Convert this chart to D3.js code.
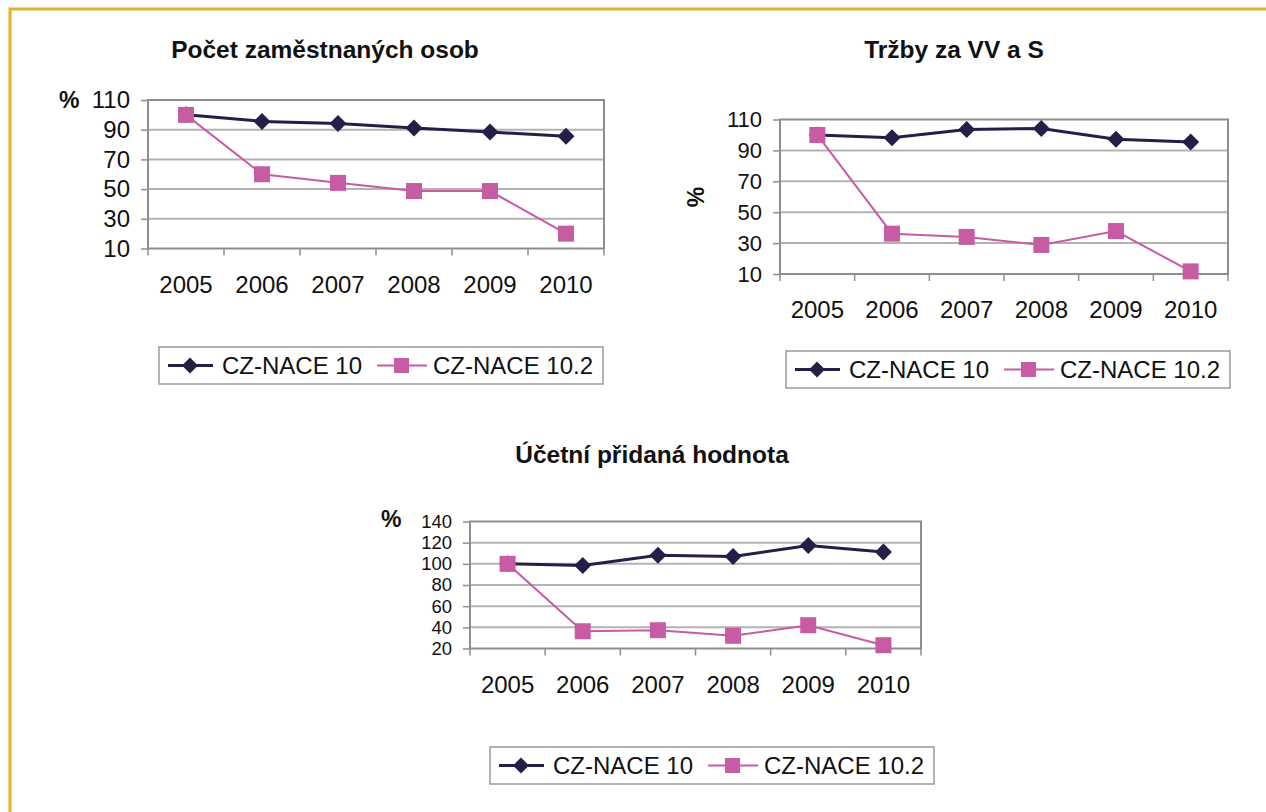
<!DOCTYPE html>
<html>
<head>
<meta charset="utf-8">
<script src="https://cdn.jsdelivr.net/npm/d3@7"></script>
<style>
    body { margin: 0; background: #fff; }
    svg { display: block; font-family: "Liberation Sans", Arial, sans-serif; }
</style>
</head>
<body>
<div id="chart"></div>
<script>
// data (index 2005 = 100)
const years = ["2005", "2006", "2007", "2008", "2009", "2010"];
const seriesNames = ["CZ-NACE 10", "CZ-NACE 10.2"];

const zamestnanciNace10 = [100, 95.6, 94.2, 91.1, 88.4, 85.6];
const zamestnanciNace102 = [100, 60, 54.2, 48.7, 48.7, 20];

const trzbyNace10 = [100, 98.2, 103.6, 104.2, 97.2, 95.5];
const trzbyNace102 = [100, 36.1, 34, 28.8, 37.8, 11.7];

const hodnotaNace10 = [100, 98.5, 108, 107, 117.4, 111.1];
const hodnotaNace102 = [100, 36.3, 37.3, 32, 42, 23.1];

const ticksZamestnanci = [10, 30, 50, 70, 90, 110];
const ticksTrzby = [10, 30, 50, 70, 90, 110];
const ticksHodnota = [20, 40, 60, 80, 100, 120, 140];

const titles = ["Počet zaměstnaných osob", "Tržby za VV a S", "Účetní přidaná hodnota"];

const NAVY = "#241f49";
const PINK = "#c75ba4";
const INK = "#111";

class LineChart {
    constructor(svg, conf) {
        this.svg = svg;
        this.config = conf;
        this.g = svg.append("g");
    }

    render(title, series, ticks) {
        let c = this.config;
        let x = d3.scaleBand().domain(years).range([c.left, c.right]);
        let y = d3.scaleLinear().domain([ticks[0], ticks[ticks.length - 1]]).range([c.bottom, c.top]);

        // title
        this.g.append("text")
            .attr("x", c.titleX)
            .attr("y", c.titleY)
            .attr("text-anchor", "middle")
            .attr("font-weight", "bold")
            .attr("fill", INK)
            .style("font-size", "24.5px")
            .text(title);

        // grid
        this.g.append("g")
            .selectAll("line")
            .data(ticks.slice(1, -1))
            .enter().append("line")
                .attr("x1", c.left)
                .attr("x2", c.right)
                .attr("y1", d => y(d))
                .attr("y2", d => y(d))
                .style("stroke", "#b3b3b3")
                .style("stroke-width", 2);

        // plot frame
        this.g.append("rect")
            .attr("x", c.left)
            .attr("y", c.top)
            .attr("width", c.right - c.left)
            .attr("height", c.bottom - c.top)
            .attr("fill", "none")
            .style("stroke", "#8e8e8e")
            .style("stroke-width", 2);

        // y axis
        let yAxis = this.g.append("g")
            .attr("transform", `translate(${c.left},0)`)
            .call(d3.axisLeft(y).tickValues(ticks).tickSize(7).tickPadding(11));
        yAxis.select(".domain").remove();
        yAxis.selectAll("line").style("stroke", "#8e8e8e").style("stroke-width", 1.5);
        yAxis.selectAll("text")
            .attr("fill", INK)
            .style("font-size", c.yFont + "px")
            .style("font-family", "'Liberation Sans', Arial, sans-serif");

        // x axis, ticks on band edges
        let edges = years.map(d => x(d)).concat([c.right]);
        this.g.append("g")
            .selectAll("line")
            .data(edges)
            .enter().append("line")
                .attr("x1", d => d)
                .attr("x2", d => d)
                .attr("y1", c.bottom)
                .attr("y2", c.bottom + 7)
                .style("stroke", "#8e8e8e")
                .style("stroke-width", 1.5);
        this.g.append("g")
            .selectAll("text")
            .data(years)
            .enter().append("text")
                .attr("x", d => x(d) + x.bandwidth() / 2)
                .attr("y", c.bottom + 44)
                .attr("text-anchor", "middle")
                .attr("fill", INK)
                .style("font-size", "24px")
                .text(d => d);

        // % label
        let pct = this.g.append("text")
            .attr("font-weight", "bold")
            .attr("fill", INK)
            .style("font-size", "23px")
            .text("%");
        if (c.pctRotate) {
            pct.attr("transform", `translate(${c.pctX},${c.pctY}) rotate(-90)`)
                .attr("text-anchor", "middle")
                .attr("dy", "0.35em");
        } else {
            pct.attr("x", c.pctX).attr("y", c.pctY);
        }

        // lines + markers
        let line = d3.line()
            .x((d, i) => x(years[i]) + x.bandwidth() / 2)
            .y(d => y(d));

        this.g.append("path")
            .datum(series[1])
            .attr("d", line)
            .attr("fill", "none")
            .style("stroke", PINK)
            .style("stroke-width", 2);
        this.g.append("path")
            .datum(series[0])
            .attr("d", line)
            .attr("fill", "none")
            .style("stroke", NAVY)
            .style("stroke-width", 3);

        this.g.append("g")
            .selectAll("path")
            .data(series[0])
            .enter().append("path")
                .attr("d", "M0,-8.5L8.5,0L0,8.5L-8.5,0Z")
                .attr("transform", (d, i) => `translate(${x(years[i]) + x.bandwidth() / 2},${y(d)})`)
                .attr("fill", NAVY);
        this.g.append("g")
            .selectAll("rect")
            .data(series[1])
            .enter().append("rect")
                .attr("x", (d, i) => x(years[i]) + x.bandwidth() / 2 - 8)
                .attr("y", d => y(d) - 8)
                .attr("width", 16)
                .attr("height", 16)
                .attr("fill", PINK);

        this.renderLegend();
    }

    renderLegend() {
        let c = this.config;
        let lg = this.g.append("g").attr("transform", `translate(${c.legendX},${c.legendY})`);
        lg.append("rect")
            .attr("width", 444)
            .attr("height", 37)
            .attr("fill", "#fff")
            .style("stroke", "#9a9a9a")
            .style("stroke-width", 1.5);

        // navy item
        lg.append("line").attr("x1", 9).attr("x2", 54).attr("y1", 18.5).attr("y2", 18.5)
            .style("stroke", NAVY).style("stroke-width", 3);
        lg.append("path").attr("d", "M0,-8L8,0L0,8L-8,0Z")
            .attr("transform", "translate(31,18.5)").attr("fill", NAVY);
        lg.append("text").attr("x", 63).attr("y", 27).style("font-size", "24px")
            .attr("fill", INK).text(seriesNames[0]);

        // pink item
        lg.append("line").attr("x1", 218).attr("x2", 268).attr("y1", 18.5).attr("y2", 18.5)
            .style("stroke", PINK).style("stroke-width", 2);
        lg.append("rect").attr("x", 235).attr("y", 11).attr("width", 15).attr("height", 15)
            .attr("fill", PINK);
        lg.append("text").attr("x", 274).attr("y", 27).style("font-size", "24px")
            .attr("fill", INK).text(seriesNames[1]);
    }
}

const svg = d3.select("#chart")
    .append("svg")
    .attr("width", 1266)
    .attr("height", 812);

// golden frame
svg.append("path")
    .attr("d", "M10,812L10,9L1266,9")
    .attr("fill", "none")
    .style("stroke", "#e4b02c")
    .style("stroke-width", 3);

const chart1 = new LineChart(svg, {
    left: 148, right: 604, top: 100, bottom: 248.5,
    titleX: 325, titleY: 58, yFont: 24,
    pctX: 59, pctY: 108, pctRotate: false,
    legendX: 159, legendY: 347
});
chart1.render(titles[0], [zamestnanciNace10, zamestnanciNace102], ticksZamestnanci);

const chart2 = new LineChart(svg, {
    left: 780, right: 1228, top: 119.5, bottom: 274,
    titleX: 954, titleY: 58, yFont: 22,
    pctX: 696, pctY: 197, pctRotate: true,
    legendX: 786, legendY: 351
});
chart2.render(titles[1], [trzbyNace10, trzbyNace102], ticksTrzby);

// tick labels here are tightly packed in the original, a bit smaller so they don't collide
const chart3 = new LineChart(svg, {
    left: 470, right: 921, top: 521.5, bottom: 648.5,
    titleX: 652, titleY: 463, yFont: 18.5,
    pctX: 381, pctY: 527, pctRotate: false,
    legendX: 490, legendY: 747
});
chart3.render(titles[2], [hodnotaNace10, hodnotaNace102], ticksHodnota);
</script>
</body>
</html>
